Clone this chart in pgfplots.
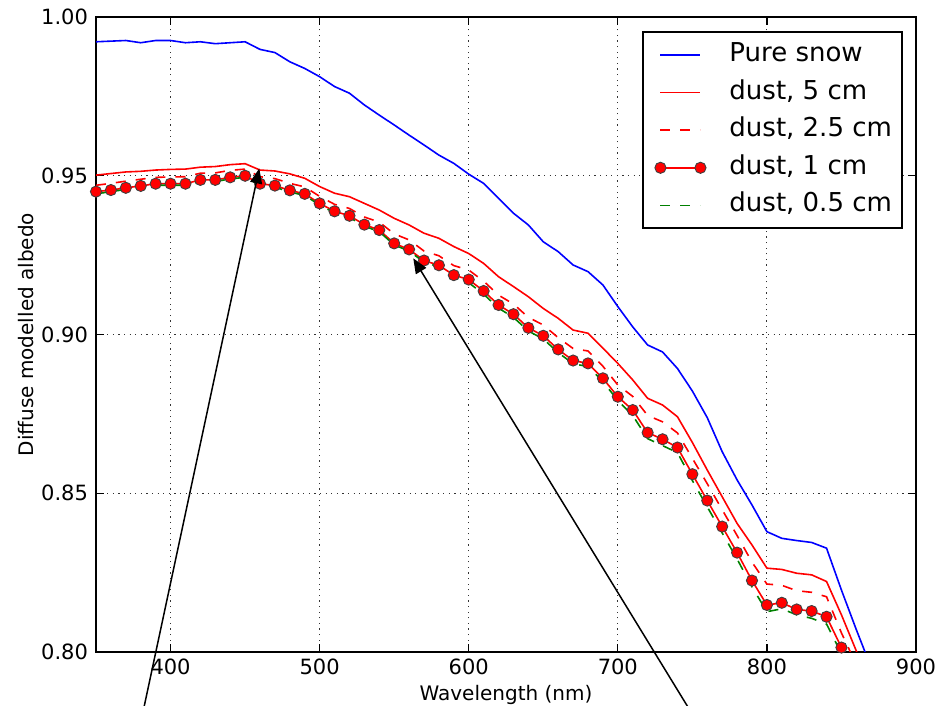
\documentclass[border=0pt]{standalone}
\usepackage{fontspec}
\setmainfont{DejaVu Sans}
\usepackage{pgfplots}
\usepackage{pgfplotstable}
\pgfplotsset{compat=1.18}
\usetikzlibrary{arrows.meta}

\pgfplotstableread{
x    snow   dfive  dtwo   done   dhalf
350  0.9922 0.9502 0.9470 0.9450 0.9443
360  0.9924 0.9507 0.9476 0.9455 0.9450
370  0.9926 0.9512 0.9483 0.9462 0.9457
380  0.9919 0.9514 0.9489 0.9468 0.9463
390  0.9926 0.9518 0.9495 0.9475 0.9470
400  0.9926 0.9520 0.9496 0.9475 0.9470
410  0.9919 0.9521 0.9497 0.9475 0.9470
420  0.9922 0.9527 0.9508 0.9487 0.9482
430  0.9916 0.9529 0.9509 0.9487 0.9482
440  0.9919 0.9535 0.9517 0.9495 0.9490
450  0.9922 0.9538 0.9521 0.9500 0.9495
460  0.9898 0.9518 0.9497 0.9475 0.9470
470  0.9888 0.9515 0.9491 0.9469 0.9464
480  0.9859 0.9506 0.9476 0.9454 0.9449
490  0.9838 0.9492 0.9465 0.9443 0.9438
500  0.9812 0.9466 0.9435 0.9413 0.9408
510  0.9781 0.9445 0.9410 0.9388 0.9383
520  0.9760 0.9434 0.9397 0.9374 0.9369
530  0.9723 0.9413 0.9370 0.9346 0.9341
540  0.9691 0.9392 0.9354 0.9329 0.9324
550  0.9660 0.9366 0.9317 0.9287 0.9282
560  0.9628 0.9345 0.9298 0.9268 0.9263
570  0.9597 0.9319 0.9263 0.9233 0.9228
580  0.9565 0.9303 0.9248 0.9218 0.9213
590  0.9539 0.9277 0.9217 0.9187 0.9180
600  0.9505 0.9255 0.9203 0.9173 0.9163
610  0.9476 0.9224 0.9168 0.9137 0.9127
620  0.9429 0.9182 0.9124 0.9093 0.9083
630  0.9382 0.9151 0.9096 0.9064 0.9054
640  0.9345 0.9119 0.9054 0.9021 0.9011
650  0.9292 0.9082 0.9030 0.8996 0.8986
660  0.9261 0.9051 0.8990 0.8953 0.8943
670  0.9219 0.9014 0.8956 0.8918 0.8908
680  0.9198 0.9004 0.8948 0.8909 0.8899
690  0.9156 0.8957 0.8900 0.8862 0.8852
700  0.9088 0.8909 0.8841 0.8804 0.8792
710  0.9024 0.8857 0.8805 0.8762 0.8745
720  0.8967 0.8799 0.8745 0.8691 0.8672
730  0.8945 0.8778 0.8725 0.8670 0.8650
740  0.8893 0.8741 0.8690 0.8644 0.8628
750  0.8822 0.8660 0.8610 0.8560 0.8540
760  0.8738 0.8573 0.8530 0.8477 0.8457
770  0.8631 0.8489 0.8448 0.8395 0.8375
780  0.8542 0.8405 0.8367 0.8313 0.8293
790  0.8463 0.8337 0.8283 0.8225 0.8205
800  0.8379 0.8264 0.8214 0.8148 0.8127
810  0.8358 0.8260 0.8210 0.8155 0.8136
820  0.8351 0.8248 0.8193 0.8134 0.8117
830  0.8345 0.8243 0.8188 0.8129 0.8106
840  0.8327 0.8222 0.8174 0.8111 0.8088
850  0.8195 0.8117 0.8060 0.8014 0.7995
860  0.8070 0.8003 0.7960 0.7900 0.7890
870  0.7950 0.7890 0.7850 0.7790 0.7780
}\datatable

\begin{document}
\begin{tikzpicture}
\begin{axis}[
  scale only axis,
  width=410pt, height=317.5pt,
  xmin=350, xmax=900, ymin=0.80, ymax=1.00,
  xtick={400,500,600,700,800,900},
  ytick={0.80,0.85,0.90,0.95,1.00},
  scaled ticks=false,
  /pgf/number format/assume math mode=true,
  yticklabel style={/pgf/number format/fixed, /pgf/number format/fixed zerofill, /pgf/number format/precision=2, anchor=east, xshift=-0.5pt},
  tick label style={font=\fontsize{10.5}{12}\selectfont},
  xticklabel style={anchor=base, yshift=-11.5pt},
  xlabel={Wavelength (nm)}, ylabel={Diffuse modelled albedo},
  label style={font=\fontsize{11}{13}\selectfont},
  every axis x label/.style={at={(rel axis cs:0.5,-0.0756)}, anchor=base},
  every axis y label/.style={at={(rel axis cs:-0.0768,0.5)}, anchor=base, rotate=90},
  grid=major,
  major grid style={black!80, line width=0.5pt, dash pattern=on 0.6pt off 2.2pt},
  axis line style={line width=1pt},
  tick align=inside,
  major tick length=4pt,
  tick style={black, line width=0.6pt},
  legend image code/.code={%
    \path[draw=none, fill=none] (-3.5pt,0pt) -- (34.5pt,0pt);
    \draw[#1] plot coordinates {(0pt,0pt) (20pt,0pt)};},
  legend cell align=left,
  legend style={at={(rel axis cs:0.9841,0.978)}, anchor=north east,
    draw=black, line width=1pt, fill=white,
    inner xsep=5pt, inner ysep=2.1pt, row sep=0pt,
    font=\fontsize{13}{15.6}\selectfont,
    nodes={inner xsep=0pt, inner ysep=3.15pt, text height=9.5pt, text depth=3pt}},
]
\addplot[color=blue, line width=0.8pt] table[x=x, y=snow] {\datatable};
\addlegendentry{Pure snow}
\addplot[color=red, line width=0.8pt] table[x=x, y=dfive] {\datatable};
\addlegendentry{dust, 5 cm}
\addplot[color=red, line width=0.8pt, dash pattern=on 5pt off 5pt] table[x=x, y=dtwo] {\datatable};
\addlegendentry{dust, 2.5 cm}
\addplot[color=red, line width=0.8pt, mark=*, mark size=2.8pt,
  mark options={solid, fill=red, draw=black!75, line width=0.45pt}] table[x=x, y=done] {\datatable};
\addlegendentry{dust, 1 cm}
\addplot[color=black!50!green, line width=0.8pt, dash pattern=on 5pt off 5pt] table[x=x, y=dhalf] {\datatable};
\addlegendentry{dust, 0.5 cm}

\coordinate (bl) at (rel axis cs:-0.1171,-0.0850);
\coordinate (tr) at (rel axis cs:1.0293,1.0268);
\coordinate (a1s) at (axis cs:381.0,0.780);
\coordinate (a1e) at (axis cs:459.5,0.9523);
\coordinate (a2s) at (axis cs:750.5,0.780);
\coordinate (a2e) at (axis cs:562.8,0.924);
\end{axis}
\draw[line width=0.75pt, -{Triangle[length=7.5pt,width=6pt]}] (a1s) -- (a1e);
\draw[line width=0.75pt, -{Triangle[length=7.5pt,width=6pt]}] (a2s) -- (a2e);
\pgfresetboundingbox
\path[use as bounding box] (bl) rectangle (tr);
\end{tikzpicture}
\end{document}
